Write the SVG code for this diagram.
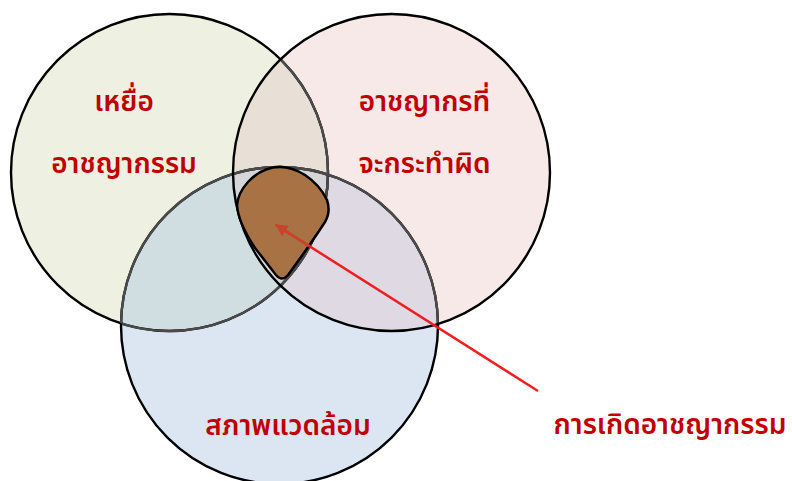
<svg xmlns="http://www.w3.org/2000/svg" width="792" height="481" viewBox="0 0 792 481">
<style>
.lbl{font-family:"Noto Sans Thai","Noto Sans","DejaVu Sans",sans-serif;font-size:28px;font-weight:600;fill:#C00000;text-anchor:middle}
.edge{fill:none;stroke:#000;stroke-width:2.4}
.inner{fill:none;stroke:#4a4a4a;stroke-width:2.4}
</style>
<defs>
<clipPath id="k1"><circle cx="169.5" cy="172.5" r="158.5"/></clipPath>
<clipPath id="k2"><circle cx="391.5" cy="172.5" r="158.5"/></clipPath>
<clipPath id="k3"><circle cx="279.5" cy="325.5" r="158.5"/></clipPath>
<clipPath id="kb"><path d="M280,167 Q262,167 248,182 Q238,193 237,205 Q238,222 255,248 L276,275 Q282,282 288,275 Q310,245 325,222 Q331,212 327,200 Q320,185 305,175 Q292,167 280,167 Z"/></clipPath>
<marker id="ah" viewBox="0 0 10 10" refX="9" refY="5" markerWidth="6" markerHeight="5" orient="auto" markerUnits="strokeWidth">
<path d="M0,0 L10,5 L0,10 Z" fill="#C8442A"/>
</marker>
</defs>
<g id="fills">
<circle cx="169.5" cy="172.5" r="158.5" fill="#EEF1E1"/>
<circle cx="391.5" cy="172.5" r="158.5" fill="#F8E9E9"/>
<circle cx="279.5" cy="325.5" r="158.5" fill="#DCE6F3"/>
<circle cx="391.5" cy="172.5" r="158.5" fill="#E8E0D6" clip-path="url(#k1)"/>
<circle cx="279.5" cy="325.5" r="158.5" fill="#D0DEE1" clip-path="url(#k1)"/>
<circle cx="279.5" cy="325.5" r="158.5" fill="#DFD9E4" clip-path="url(#k2)"/>
<g clip-path="url(#k1)"><circle cx="279.5" cy="325.5" r="158.5" fill="#D6D6D9" clip-path="url(#k2)"/></g>
</g>
<g id="node-victim">
<circle class="edge" cx="169.5" cy="172.5" r="158.5"/>
<circle class="inner" cx="169.5" cy="172.5" r="158.5" clip-path="url(#k2)"/>
<circle class="inner" cx="169.5" cy="172.5" r="158.5" clip-path="url(#k3)"/>
<text class="lbl" x="124" y="111">เหยื่อ</text>
<text class="lbl" x="124" y="173">อาชญากรรม</text>
</g>
<g id="node-environment">
<circle class="edge" cx="279.5" cy="325.5" r="158.5"/>
<circle class="inner" cx="279.5" cy="325.5" r="158.5" clip-path="url(#k1)"/>
<circle class="inner" cx="279.5" cy="325.5" r="158.5" clip-path="url(#k2)"/>
<text class="lbl" x="288" y="435">สภาพแวดล้อม</text>
</g>
<g id="node-offender">
<circle class="edge" cx="391.5" cy="172.5" r="158.5"/>
<text class="lbl" x="424.5" y="111">อาชญากรที่</text>
<text class="lbl" x="424.5" y="173">จะกระทำผิด</text>
</g>
<g id="node-crime">
<path d="M280,167 Q262,167 248,182 Q238,193 237,205 Q238,222 255,248 L276,275 Q282,282 288,275 Q310,245 325,222 Q331,212 327,200 Q320,185 305,175 Q292,167 280,167 Z" fill="#A97245" stroke="#000" stroke-width="2.5"/>
</g>
<g id="connectors">
<line x1="538" y1="391" x2="276" y2="225" stroke="#F01E1E" stroke-width="2.5" marker-end="url(#ah)"/>
<line x1="538" y1="391" x2="276" y2="225" stroke="#C8442A" stroke-width="2.5" clip-path="url(#kb)"/>
</g>
<g id="node-label">
<text class="lbl" x="670" y="434">การเกิดอาชญากรรม</text>
</g>
</svg>
